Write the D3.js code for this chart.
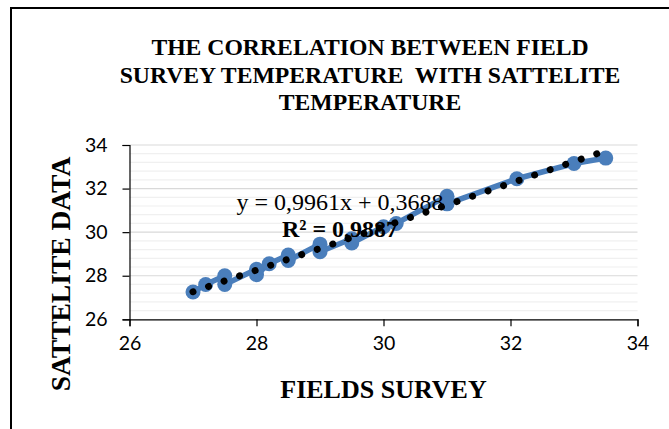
<!DOCTYPE html>
<html><head><meta charset="utf-8">
<script src="https://cdn.jsdelivr.net/npm/d3@7/dist/d3.min.js"></script>
<style>html,body{margin:0;padding:0;background:#fff;}svg{display:block;}</style>
</head><body>
<svg id="chart" width="669" height="429"></svg>
<script>
const titleLines = ["THE CORRELATION BETWEEN FIELD", "SURVEY TEMPERATURE  WITH SATTELITE", "TEMPERATURE"];
const xTitle = "FIELDS SURVEY";
const yTitle = "SATTELITE DATA";
const xTicks = [26, 28, 30, 32, 34];
const yTicks = [26, 28, 30, 32, 34];
const fieldSurvey = [27, 27.2, 27.5, 27.5, 28, 28, 28.2, 28.5, 28.5, 29, 29, 29.5, 29.5, 30, 30.2, 31, 31, 32.1, 33, 33.5];
const satelliteData = [27.25, 27.6, 28.0, 27.6, 28.3, 28.05, 28.55, 28.95, 28.7, 29.45, 29.1, 29.7, 29.5, 30.25, 30.4, 31.65, 31.3, 32.45, 33.15, 33.4];
const trendSlope = 0.9961, trendIntercept = 0.3688;
const eqText = "y = 0,9961x + 0,3688";
const r2Text = "R² = 0,9887";

const svg = d3.select("#chart");
svg.append("rect").attr("x", 11).attr("y", 8).attr("width", 720).attr("height", 500)
  .attr("fill", "#fff").attr("stroke", "#000").attr("stroke-width", 2);

const x = d3.scaleLinear().domain([26, 34]).range([129.5, 637.5]);
const y = d3.scaleLinear().domain([26, 34]).range([319.3, 145]);

// gridlines
const minor = d3.range(26, 34.001, 0.4).map(v => +v.toFixed(1));
svg.append("g").selectAll("line").data(minor.filter(v => !yTicks.includes(v))).join("line")
  .attr("x1", x(26)).attr("x2", x(34)).attr("y1", d => y(d)).attr("y2", d => y(d))
  .attr("stroke", "#f0f0f0").attr("stroke-width", 1.2);
svg.append("g").selectAll("line").data(yTicks.slice(1)).join("line")
  .attr("x1", x(26)).attr("x2", x(34)).attr("y1", d => y(d)).attr("y2", d => y(d))
  .attr("stroke", "#d9d9d9").attr("stroke-width", 1.2);

// axes
const tickFont = "Lato, 'Open Sans', sans-serif";
const xAxis = svg.append("g").attr("transform", `translate(0,${y(26)})`)
  .call(d3.axisBottom(x).tickValues(xTicks).tickSize(7).tickPadding(10).tickFormat(d3.format("d")));
const yAxis = svg.append("g").attr("transform", `translate(${x(26)},0)`)
  .call(d3.axisLeft(y).tickValues(yTicks).tickSize(7).tickPadding(15).tickFormat(d3.format("d")));
[xAxis, yAxis].forEach(g => {
  g.select(".domain").attr("stroke", "#000").attr("stroke-width", 1.2);
  g.selectAll(".tick line").attr("stroke", "#000").attr("stroke-width", 1.2);
  g.selectAll(".tick text").attr("font-family", tickFont).attr("font-size", 19.5).attr("fill", "#000");
});

// series line + markers
const pts = fieldSurvey.map((v, i) => [v, satelliteData[i]]);
const line = d3.line().x(d => x(d[0])).y(d => y(d[1]));
svg.append("path").datum(pts).attr("d", line).attr("fill", "none")
  .attr("stroke", "#4a7ebb").attr("stroke-width", 5.5).attr("stroke-linejoin", "round");
svg.append("g").selectAll("circle").data(pts).join("circle")
  .attr("cx", d => x(d[0])).attr("cy", d => y(d[1])).attr("r", 7.5).attr("fill", "#4a7ebb");

// trendline
const xMin = d3.min(fieldSurvey), xMax = d3.max(fieldSurvey);
const trend = [[xMin, trendSlope * xMin + trendIntercept], [xMax, trendSlope * xMax + trendIntercept]];
svg.append("path").datum(trend).attr("d", line).attr("fill", "none")
  .attr("stroke", "#000").attr("stroke-width", 7).attr("stroke-linecap", "round")
  .attr("stroke-dasharray", "0.01 16.4");

// equation text
const serif = "'Liberation Serif', 'Times New Roman', serif";
svg.append("text").attr("x", 340).attr("y", 210).attr("text-anchor", "middle")
  .attr("font-family", serif).attr("font-size", 24).attr("fill", "#000").text(eqText);
svg.append("text").attr("x", 340).attr("y", 237).attr("text-anchor", "middle")
  .attr("font-family", serif).attr("font-size", 24).attr("font-weight", "bold").attr("fill", "#000").text(r2Text);

// title
svg.append("g").selectAll("text").data(titleLines).join("text")
  .attr("x", 370).attr("y", (d, i) => 55 + i * 27.5).attr("text-anchor", "middle")
  .attr("font-family", serif).attr("font-size", 23.7).attr("font-weight", "bold")
  .attr("fill", "#000").attr("xml:space", "preserve").text(d => d);

// axis titles
svg.append("text").attr("x", (x(26) + x(34)) / 2).attr("y", 398).attr("text-anchor", "middle")
  .attr("font-family", serif).attr("font-size", 26).attr("font-weight", "bold").attr("fill", "#000").text(xTitle);
svg.append("text").attr("transform", "translate(70,274) rotate(-90)").attr("text-anchor", "middle")
  .attr("font-family", serif).attr("font-size", 27.5).attr("font-weight", "bold").attr("fill", "#000").text(yTitle);
</script>
</body></html>
